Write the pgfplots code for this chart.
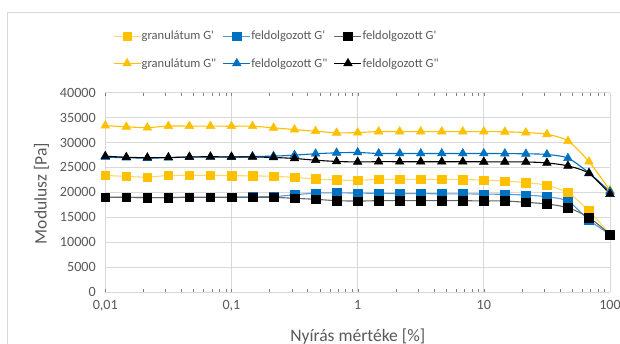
\documentclass[border=0pt]{standalone}
\usepackage{pgfplots}
\pgfplotsset{compat=1.18}
\usepackage{pgfplotstable}
\usepackage{fontspec}
\setmainfont{Carlito}
\definecolor{txt}{HTML}{595959}
\definecolor{gridc}{HTML}{D9D9D9}
\definecolor{yel}{HTML}{FFC000}
\definecolor{yelL}{HTML}{FFD966}
\definecolor{blu}{HTML}{0070C0}
\definecolor{bluL}{HTML}{5B9BD5}
\definecolor{grayL}{HTML}{666666}

\pgfplotstableread{
x gG1 fG1 kG1 gG2 fG2 kG2
0.01      23400 19000 19050 33400 27050 27250
0.014678  23200 19000 19000 33150 26950 27050
0.021544  23050 18950 18950 33000 26870 26950
0.031623  23400 18950 18950 33300 26950 27000
0.046416  23400 19050 19000 33300 27070 27100
0.068129  23400 19050 19000 33300 27070 27150
0.1       23350 19050 19000 33270 27100 27100
0.14678   23300 19100 19000 33270 27200 27100
0.21544   23220 19150 19000 32950 27270 27000
0.31623   23000 19500 18800 32600 27470 26800
0.46416   22680 19850 18600 32270 27750 26450
0.68129   22480 19900 18330 31950 27930 26200
1         22400 19850 18250 32000 28000 26100
1.4678    22600 19800 18330 32200 27800 26150
2.1544    22600 19750 18330 32200 27800 26150
3.1623    22600 19750 18330 32200 27800 26150
4.6416    22600 19700 18330 32200 27800 26150
6.8129    22580 19700 18330 32200 27800 26150
10        22450 19650 18270 32200 27800 26130
14.678    22250 19600 18270 32150 27780 26130
21.544    21950 19450 18000 32000 27730 26100
31.623    21410 19100 17660 31650 27600 25900
46.416    19870 18200 16900 30300 26850 25300
68.129    16320 14450 14950 26150 23900 23800
100       11550 11550 11550 20400 20150 19650
}\datatable

\begin{document}
\begin{tikzpicture}
\path[use as bounding box] (0bp,0bp) rectangle (620bp,344bp);
\draw[gridc, line width=0.8bp] (7bp,-20bp) rectangle (640bp,331.3bp);
\begin{axis}[
  at={(105.3bp,52bp)}, anchor=south west,
  scale only axis, width=504.7bp, height=199.3bp,
  xmode=log, xmin=0.01, xmax=100, ymin=0, ymax=40000,
  xtick={0.01,0.1,1,10,100},
  xticklabels={{0,01},{0,1},1,10,100},
  ytick distance=5000,
  scaled y ticks=false,
  /pgf/number format/.cd, 1000 sep={}, assume math mode=true, /pgfplots/.cd,
  major tick length=0,
  grid=major,
  major grid style={gridc, line width=0.8bp},
  axis line style={draw=none},
  ticklabel style={font=\fontsize{14.2}{16}\selectfont, text=txt},
  xticklabel style={yshift=-5bp},
  yticklabel style={xshift=-6bp},
  xlabel={Nyírás mértéke [\%]},
  ylabel={Modulusz  [Pa]},
  every axis x label/.style={at={(axis description cs:0.5001,-0.2459)}, anchor=base, font=\fontsize{17.6}{20}\selectfont, text=txt},
  every axis y label/.style={at={(axis description cs:-0.1161,0.495)}, rotate=90, anchor=base, font=\fontsize{17.6}{20}\selectfont, text=txt},
  legend columns=3,
  legend style={at={(axis description cs:0.0149,1.32)}, anchor=north west, draw=none, fill=none,
    inner sep=0pt, font=\fontsize{12.6}{15}\selectfont, text=txt,
    nodes={inner xsep=0.5bp},
    /tikz/every even column/.append style={column sep=6bp},
    row sep=13bp, cells={anchor=west}},
  legend image code/.code={\draw[mark repeat=2,mark phase=2,#1] plot coordinates {(0bp,0bp)(13.5bp,0bp)(27bp,0bp)};},
  every axis plot/.append style={smooth, tension=0.5, line width=1.1bp},
]
\addplot[yelL, mark=square*, mark size=4.3bp, mark options={draw=yel, fill=yel, solid, line width=0.5bp}] table[x=x,y=gG1]{\datatable};
\addlegendentry{granulátum G\textquotesingle}
\addplot[bluL, mark=square*, mark size=4.3bp, mark options={draw=blu, fill=blu, solid, line width=0.5bp}] table[x=x,y=fG1]{\datatable};
\addlegendentry{feldolgozott G\textquotesingle}
\addplot[grayL, mark=square*, mark size=4.3bp, mark options={draw=black, fill=black, solid, line width=0.5bp}] table[x=x,y=kG1]{\datatable};
\addlegendentry{feldolgozott G\textquotesingle}
\addplot[yel, mark=triangle*, mark size=5bp, mark options={draw=yel, fill=yel, solid, line width=0.5bp}] table[x=x,y=gG2]{\datatable};
\addlegendentry{granulátum G\textquotedbl}
\addplot[blu, mark=triangle*, mark size=5bp, mark options={draw=blu, fill=blu, solid, line width=0.5bp}] table[x=x,y=fG2]{\datatable};
\addlegendentry{feldolgozott G\textquotedbl}
\addplot[black, mark=triangle*, mark size=5bp, mark options={draw=black, fill=black, solid, line width=0.5bp}] table[x=x,y=kG2]{\datatable};
\addlegendentry{feldolgozott G\textquotedbl}
\end{axis}
\end{tikzpicture}
\end{document}
